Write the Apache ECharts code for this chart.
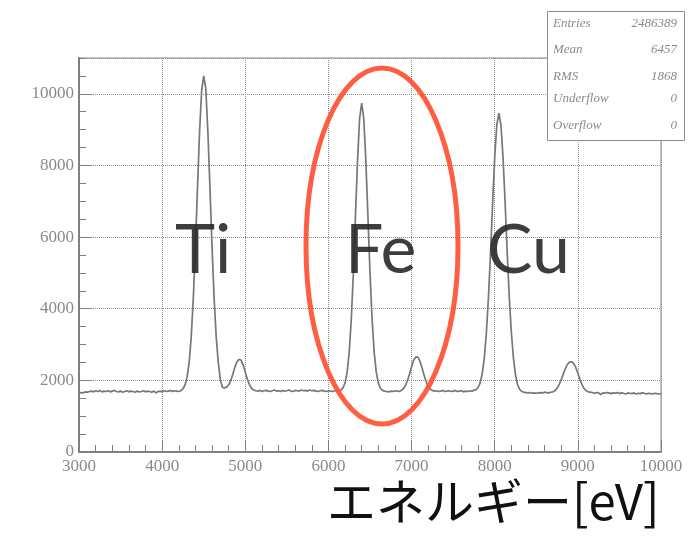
<!DOCTYPE html>
<html>
<head>
<meta charset="utf-8">
<script src="https://cdn.jsdelivr.net/npm/echarts@6/dist/echarts.min.js"></script>
<style>html,body{margin:0;padding:0;background:#fff;}#c{width:690px;height:540px;}</style>
</head>
<body>
<div id="c"></div>
<script>
// Histogram definition: bins of 25 eV starting at 3000 eV
const binStart = 3000;
const binWidth = 25;
// Counts per bin (rows of 10 bins = 250 eV each)
const counts = [
  1640,1660,1650,1680,1670,1690,1700,1680,1710,1690, // 3000
  1720,1680,1700,1690,1710,1680,1700,1720,1690,1680, // 3250
  1700,1670,1690,1710,1680,1700,1690,1670,1700,1680, // 3500
  1690,1710,1680,1700,1690,1670,1700,1650,1690,1700, // 3750
  1680,1710,1690,1700,1720,1690,1710,1700,1690,1710, // 4000
  1760,1870,2090,2500,3220,4300,5730,7370,8940,10080, // 4250
  10500,10150,8940,7370,5730,4300,3220,2500,2020,1800, // 4500
  1790,1810,1870,1990,2170,2370,2520,2590,2560,2420, // 4750
  2230,2030,1880,1780,1730,1710,1700,1720,1690,1710, // 5000
  1720,1700,1690,1710,1730,1700,1710,1690,1720,1700, // 5250
  1710,1730,1700,1690,1720,1710,1700,1730,1710,1720, // 5500
  1700,1730,1710,1720,1700,1690,1710,1720,1700,1690, // 5750
  1710,1700,1690,1710,1720,1700,1730,1790,1930,2230, // 6000
  2790,3705,5005,6580,8140,9305,9740,9305,8140,6580, // 6250
  5005,3705,2790,2230,1930,1780,1720,1700,1690,1680, // 6500
  1700,1690,1710,1700,1690,1720,1760,1850,1990,2170, // 6750
  2380,2560,2650,2650,2540,2360,2150,1960,1830,1750, // 7000
  1720,1700,1710,1690,1700,1720,1690,1700,1710,1690, // 7250
  1700,1720,1690,1700,1710,1680,1700,1690,1710,1700, // 7500
  1720,1740,1800,1930,2190,2630,3335,4330,5580,6960, // 7750
  8230,9130,9460,9130,8230,6960,5580,4330,3335,2630, // 8000
  2150,1880,1750,1690,1670,1660,1650,1660,1640,1650, // 8250
  1640,1650,1660,1650,1670,1660,1650,1670,1680,1710, // 8500
  1780,1880,2020,2180,2330,2450,2510,2520,2470,2360, // 8750
  2200,2030,1880,1770,1710,1680,1670,1660,1640,1660, // 9000
  1650,1600,1650,1640,1660,1650,1630,1650,1640,1660, // 9250
  1630,1650,1640,1620,1650,1640,1630,1650,1620,1640, // 9500
  1630,1650,1640,1620,1640,1630,1620,1640,1630,1620, // 9750
  1630 // 10000
];
const peakLabels = ['Ti', 'Fe', 'Cu'];
const statNames = ['Entries', 'Mean', 'RMS', 'Underflow', 'Overflow'];
const statValues = ['2486389', '6457', '1868', '0', '0'];
const xTitle = 'エネルギー[eV]';

const data = counts.map((c, i) => [binStart + i * binWidth, c]);

const chart = echarts.init(document.getElementById('c'), null, {renderer: 'canvas'});
const labelFont = {color: '#8a8a8a', fontFamily: 'Liberation Serif', fontSize: 17, formatter: v => String(v)};
const grid = {left: 79, right: 29, top: 58, bottom: 88, show: true, borderColor: '#8a8a8a', borderWidth: 1, backgroundColor: 'transparent'};

const statGraphics = [];
statNames.forEach((n, i) => {
  const y = [25, 51, 78, 100, 127][i];
  statGraphics.push({type: 'text', left: 553, top: y - 8, z: 101,
    style: {text: n, fill: '#8a8a8a', font: 'italic 13px "Liberation Serif"'}});
  statGraphics.push({type: 'text', right: 690 - 677, top: y - 8, z: 101,
    style: {text: statValues[i], fill: '#8a8a8a', font: 'italic 13px "Liberation Serif"', textAlign: 'right'}});
});

chart.setOption({
  animation: false,
  backgroundColor: '#fff',
  grid: grid,
  xAxis: [{
    type: 'value', min: 3000, max: 10000, interval: 1000,
    axisLine: {show: true, onZero: false, lineStyle: {color: '#808080', width: 2}},
    axisTick: {show: true, inside: true, length: 12, lineStyle: {color: '#808080', width: 1}},
    minorTick: {show: true, splitNumber: 5, length: 7, lineStyle: {color: '#808080', width: 1}},
    axisLabel: Object.assign({margin: 6}, labelFont),
    splitLine: {show: true, lineStyle: {color: '#8c8c8c', type: 'dotted', width: 1}}
  }],
  yAxis: [{
    type: 'value', min: 0, max: 11000, interval: 2000,
    axisLine: {show: true, onZero: false, lineStyle: {color: '#808080', width: 2}},
    axisTick: {show: true, inside: true, length: 12, lineStyle: {color: '#808080', width: 1}},
    axisLabel: Object.assign({margin: 5, showMaxLabel: false}, labelFont),
    splitLine: {show: true, lineStyle: {color: '#8c8c8c', type: 'dotted', width: 1}}
  }, {
    type: 'value', min: 0, max: 11000, interval: 500, position: 'left',
    axisLine: {show: false},
    axisTick: {show: true, inside: true, length: 7, lineStyle: {color: '#808080', width: 1}},
    axisLabel: {show: false},
    splitLine: {show: false}
  }],
  series: [{
    type: 'line', data: data, showSymbol: false, symbol: 'none',
    lineStyle: {color: '#777777', width: 1.7}, z: 3
  }],
  graphic: [
    {type: 'text', left: 175, top: 217, z: 50,
      style: {text: peakLabels[0], fill: 'rgba(40,40,40,0.9)', font: '68px Lato'}},
    {type: 'text', left: 345, top: 217, z: 50,
      style: {text: peakLabels[1], fill: 'rgba(40,40,40,0.9)', font: '68px Lato'}},
    {type: 'text', left: 487, top: 217, z: 50,
      style: {text: peakLabels[2], fill: 'rgba(40,40,40,0.9)', font: '68px Lato'}},
    {type: 'ellipse', z: 60,
      shape: {cx: 382, cy: 246, rx: 76, ry: 178},
      style: {fill: 'none', stroke: 'rgba(255,80,50,0.92)', lineWidth: 5}},
    {type: 'rect', left: 547, top: 11, z: 100,
      shape: {width: 137, height: 129},
      style: {fill: '#fff', stroke: '#8a8a8a', lineWidth: 1}},
    ...statGraphics,
    {type: 'text', left: 327, top: 477, z: 50,
      style: {text: xTitle, fill: '#111', font: '49px "Noto Sans CJK JP"'}}
  ]
});
</script>
</body>
</html>
